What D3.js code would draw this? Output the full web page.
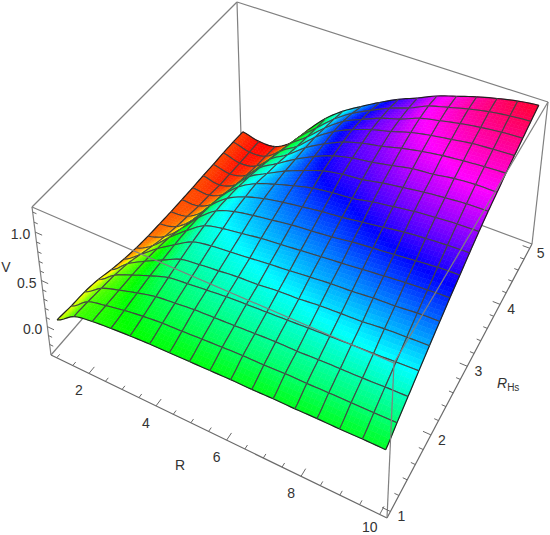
<!DOCTYPE html>
<html><head><meta charset="utf-8">
<script src="https://cdn.jsdelivr.net/npm/d3@7"></script>
<style>html,body{margin:0;padding:0;background:#fff}text{font-family:"Liberation Sans",Arial,sans-serif;fill:#333}</style>
</head><body><svg id="c" width="550" height="535"></svg>
<script>
// Data
const rValues=[1,1.5625,2.125,2.6875,3.25,3.8125,4.375,4.9375,5.5,6.0625,6.625,7.1875,7.75,8.3125,8.875,9.4375,10];
const rhsValues=[1,1.25,1.5,1.75,2,2.25,2.5,2.75,3,3.25,3.5,3.75,4,4.25,4.5,4.75,5];
// one line per R value, running through rhsValues
const vByR=[
[.05,.03,.02,-.01,-.06,-.10,-.13,-.15,-.16,-.17,-.175,-.18,-.18,-.185,-.185,-.19,-.20],
[.18,.17,.15,.13,.095,.04,-.02,-.07,-.11,-.14,-.17,-.19,-.215,-.225,-.235,-.24,-.245],
[.22,.22,.22,.22,.21,.19,.16,.105,.054,.002,-.05,-.09,-.13,-.163,-.194,-.215,-.235],
[.24,.26,.28,.30,.31,.32,.32,.31,.29,.25,.20,.15,.095,.04,-.01,-.06,-.11],
[.255,.29,.33,.37,.405,.435,.456,.466,.456,.435,.405,.363,.32,.27,.22,.167,.116],
[.265,.31,.353,.394,.435,.477,.508,.54,.55,.55,.518,.487,.446,.405,.374,.343,.322],
[.27,.32,.374,.415,.456,.497,.539,.58,.611,.621,.621,.611,.60,.58,.549,.518,.477],
[.275,.332,.384,.435,.477,.518,.57,.611,.652,.683,.704,.714,.714,.714,.693,.652,.60],
[.28,.343,.394,.446,.487,.539,.59,.642,.683,.735,.776,.797,.807,.807,.786,.755,.714],
[.285,.353,.405,.456,.508,.559,.611,.662,.714,.766,.817,.848,.869,.879,.869,.848,.817],
[.285,.353,.415,.466,.518,.58,.632,.683,.735,.786,.838,.879,.91,.931,.931,.92,.90],
[.29,.363,.415,.477,.539,.60,.652,.714,.766,.828,.879,.92,.962,.993,1.01,1.01,.99],
[.29,.363,.425,.487,.549,.611,.673,.735,.797,.859,.91,.962,1.003,1.034,1.055,1.065,1.055],
[.295,.368,.43,.497,.559,.632,.694,.755,.828,.89,.941,.982,1.034,1.065,1.096,1.117,1.117],
[.295,.37,.435,.505,.58,.642,.714,.776,.848,.91,.962,1.014,1.055,1.096,1.127,1.158,1.168],
[.30,.372,.445,.515,.59,.662,.73,.797,.862,.925,.98,1.03,1.07,1.11,1.15,1.185,1.21],
[.30,.375,.45,.525,.60,.67,.74,.805,.87,.93,.985,1.03,1.08,1.12,1.16,1.20,1.235]];
const rTicks=[2,4,6,8,10];
const rhsTicks=[1,2,3,4,5];
const vTicks=["0.0","0.5","1.0"];

// Scales: data to unit box
const sx=d3.scaleLinear().domain([0.82,10.18]).range([0,1]);
const sy=d3.scaleLinear().domain([0.92,5.08]).range([0,1]);
const sz=d3.scaleLinear().domain([-0.32,1.25]).range([0,1]);
const hue=d3.scaleLinear().domain([-0.255,1.285]).range([0,360]);

// Camera: box corners as they lie on the page (unit square -> quad homographies)
function quad(p00,p10,p11,p01){
  const dx1=p10[0]-p11[0],dx2=p01[0]-p11[0],sx_=p00[0]-p10[0]+p11[0]-p01[0];
  const dy1=p10[1]-p11[1],dy2=p01[1]-p11[1],sy_=p00[1]-p10[1]+p11[1]-p01[1];
  const den=dx1*dy2-dx2*dy1;
  const g=(sx_*dy2-dx2*sy_)/den,h=(dx1*sy_-sx_*dy1)/den;
  const a=p10[0]-p00[0]+g*p10[0],b=p01[0]-p00[0]+h*p01[0],c=p00[0];
  const d=p10[1]-p00[1]+g*p10[1],e=p01[1]-p00[1]+h*p01[1],f=p00[1];
  return (u,v)=>{const w=g*u+h*v+1;return [(a*u+b*v+c)/w,(d*u+e*v+f)/w];};
}
const bottomFace=quad([51,355],[387,518],[532,244],[241,136]);
const topFace=quad([32,207],[394,363],[548,102],[237,2]);
const persp=1.08;
function zFrac(t){return (1/(1+t*(1/persp-1))-1)/(persp-1);}
function proj(r,s,v){
  const u=sx(r),w=sy(s),t=zFrac(sz(v));
  const b=bottomFace(u,w),a=topFace(u,w);
  return [b[0]+(a[0]-b[0])*t,b[1]+(a[1]-b[1])*t];
}
const unit=(u,w,t)=>{const b=bottomFace(u,w),a=topFace(u,w),f=zFrac(t);return [b[0]+(a[0]-b[0])*f,b[1]+(a[1]-b[1])*f];};

const svg=d3.select("#c");
const lineGen=d3.line();
const boxColor="#808080";
function seg(g,a,b,col,w){g.append("path").attr("d",lineGen([a,b])).attr("fill","none").attr("stroke",col).attr("stroke-width",w);}

// Back of the box
const back=svg.append("g");
[[[0,0,0],[0,1,0]],[[0,1,0],[1,1,0]],[[0,1,0],[0,1,1]],[[1,1,0],[1,1,1]],[[0,0,1],[0,1,1]],[[0,1,1],[1,1,1]]]
 .forEach(e=>seg(back,unit(...e[0]),unit(...e[1]),boxColor,1.2));

// Smooth drawing between the read values (Catmull-Rom through the table)
const nR=rValues.length,nS=rhsValues.length;
const cr=(p0,p1,p2,p3,t)=>0.5*(2*p1+(p2-p0)*t+(2*p0-5*p1+4*p2-p3)*t*t+(3*p1-p0-3*p2+p3)*t*t*t);
const val=(j,i)=>{
  const jj=Math.max(0,Math.min(nR-1,j)),ii=Math.max(0,Math.min(nS-1,i));
  return vByR[jj][ii];
};
function smooth(j,i,a,b){
  const col=k=>cr(val(k,i-1),val(k,i),val(k,i+1),val(k,i+2),b);
  return cr(col(j-1),col(j),col(j+1),col(j+2),a);
}

// Surface, far cells first
const surf=svg.append("g");
const N=5;
const colorOf=v=>d3.hsl(hue(v),1,0.5).formatRgb();
const meshCol="#454545";
for(let j=0;j<nR-1;j++){
  for(let i=nS-2;i>=0;i--){
    const r0=rValues[j],r1=rValues[j+1],s0=rhsValues[i],s1=rhsValues[i+1];
    const at=(a,b)=>{const v=smooth(j,i,a,b);
      const r=r0+(r1-r0)*a,s=s0+(s1-s0)*b;return {p:proj(r,s,v),v};};
    const g=surf.append("g");
    for(let a=0;a<N;a++)for(let b=N-1;b>=0;b--){
      const q=[at(a/N,b/N),at((a+1)/N,b/N),at((a+1)/N,(b+1)/N),at(a/N,(b+1)/N)];
      const vm=d3.mean(q,d=>d.v),col=colorOf(vm);
      g.append("path").attr("d",lineGen(q.map(d=>d.p))+"Z").attr("fill",col).attr("stroke",col).attr("stroke-width",0.6);
    }
    const edge=(f)=>d3.range(N+1).map(k=>f(k/N).p);
    const draw=(pts,c,w)=>g.append("path").attr("d",lineGen(pts)).attr("fill","none").attr("stroke",c).attr("stroke-width",w);
    const last=nS-2,lastR=nR-2;
    draw(edge(k=>at(k,0)),i===0?"#222":meshCol,i===0?1.2:1.1);
    draw(edge(k=>at(k,1)),i===last?"#222":meshCol,i===last?1.2:1.1);
    draw(edge(k=>at(0,k)),j===0?"#222":meshCol,j===0?1.2:1.1);
    draw(edge(k=>at(1,k)),j===lastR?"#222":meshCol,j===lastR?1.2:1.1);
  }
}

// Front of the box and axes
const front=svg.append("g");
[[[0,0,0],[1,0,0]],[[1,0,0],[1,1,0]],[[0,0,0],[0,0,1]],[[1,0,0],[1,0,1]],[[0,0,1],[1,0,1]],[[1,0,1],[1,1,1]]]
 .forEach((e,k)=>seg(front,unit(...e[0]),unit(...e[1]),k<2?"#6a6a6a":boxColor,1.2));

const tickCol="#6a6a6a";
d3.range(1,10.01,0.5).forEach(r=>{
  const major=r%2===0;const a=unit(sx(r),0,0),b=unit(sx(r),major?0.024:0.013,0);
  seg(front,a,b,tickCol,1);
});
d3.range(1,5.01,0.2).forEach(s=>{
  const major=Math.abs(s-Math.round(s))<1e-6;const a=unit(1,sy(s),0),b=unit(major?0.978:0.988,sy(s),0);
  seg(front,a,b,tickCol,1);
});
d3.range(-0.2,1.21,0.1).forEach(v=>{
  const major=Math.abs(v*2-Math.round(v*2))<1e-6;const a=unit(0,0,sz(v)),b=unit(major?0.022:0.012,0,sz(v));
  seg(front,a,b,tickCol,1);
});

const labels=svg.append("g").attr("font-size",14);
rTicks.forEach(r=>{const p=unit(sx(r),0,0);
  labels.append("text").attr("x",p[0]-10).attr("y",Math.min(p[1]+22,532)).attr("text-anchor","middle").text(r);});
rhsTicks.forEach(s=>{const p=unit(1,sy(s),0);
  labels.append("text").attr("x",p[0]+11).attr("y",p[1]+10).attr("text-anchor","middle").text(s);});
vTicks.forEach(t=>{const p=unit(0,0,sz(+t));
  labels.append("text").attr("x",p[0]-5).attr("y",p[1]+7).attr("text-anchor","end").text(t);});
labels.append("text").attr("x",180).attr("y",470).attr("text-anchor","middle").text("R");
labels.append("text").attr("x",6).attr("y",272).attr("text-anchor","middle").text("V");
const rh=labels.append("text").attr("x",497).attr("y",388);
rh.append("tspan").attr("font-style","italic").text("R");
rh.append("tspan").attr("font-size",10).attr("dy",3).text("Hs");
</script></body></html>
